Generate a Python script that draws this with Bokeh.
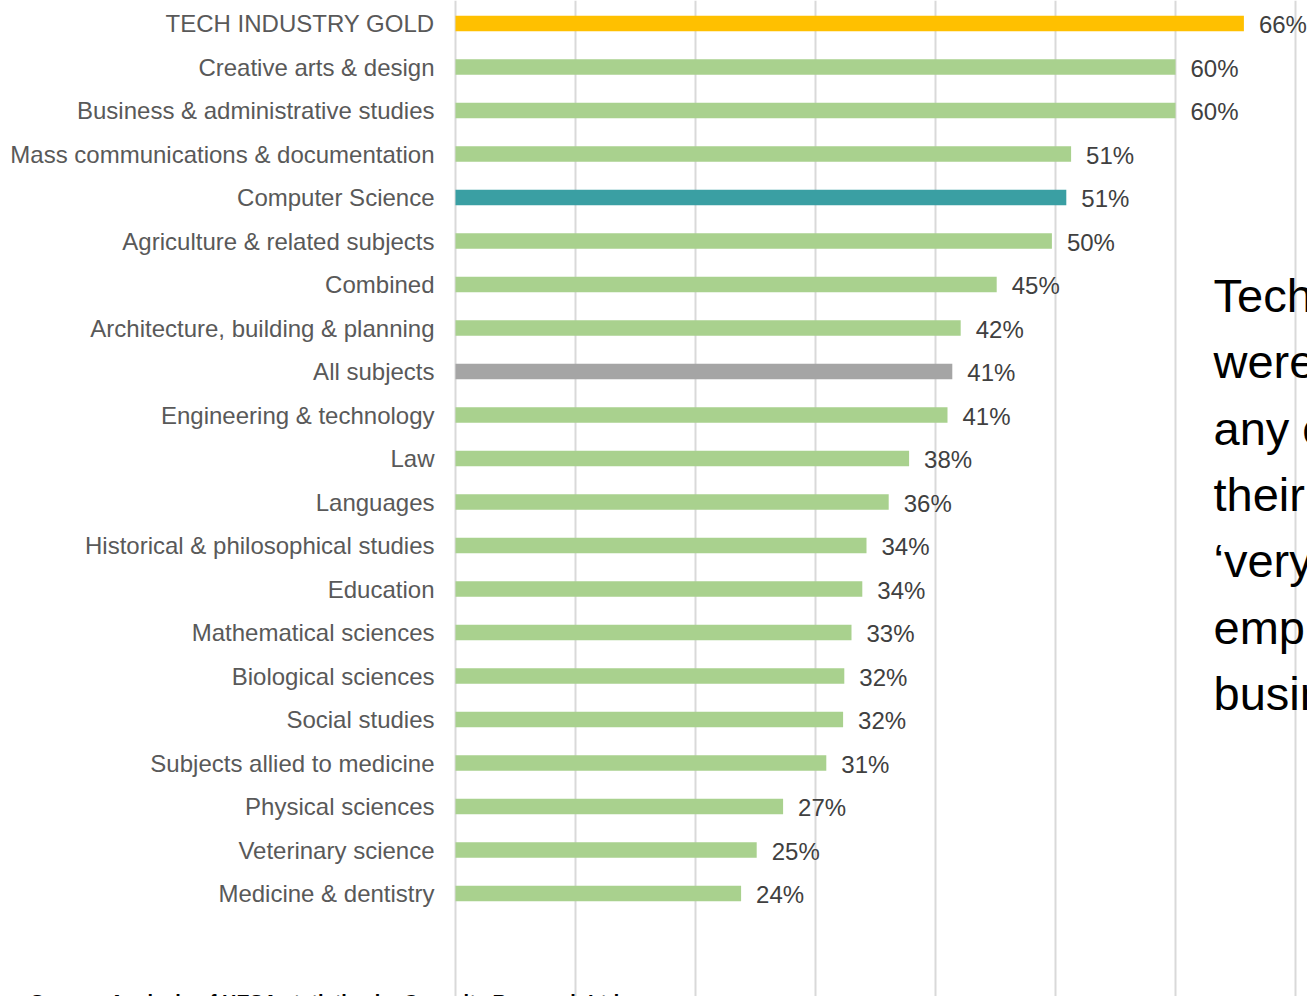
from bokeh.plotting import figure
from bokeh.models import Range1d, FixedTicker, ColumnDataSource, Label
from bokeh.core.properties import value
from bokeh.embed import file_html
from bokeh.resources import INLINE

# ---- data ----
categories = [
    "TECH INDUSTRY GOLD",
    "Creative arts & design",
    "Business & administrative studies",
    "Mass communications & documentation",
    "Computer Science",
    "Agriculture & related subjects",
    "Combined",
    "Architecture, building & planning",
    "All subjects",
    "Engineering & technology",
    "Law",
    "Languages",
    "Historical & philosophical studies",
    "Education",
    "Mathematical sciences",
    "Biological sciences",
    "Social studies",
    "Subjects allied to medicine",
    "Physical sciences",
    "Veterinary science",
    "Medicine & dentistry",
]
values = [65.7, 60.0, 60.0, 51.3, 50.9, 49.7, 45.1, 42.1, 41.4, 41.0, 37.8,
          36.1, 34.25, 33.9, 33.0, 32.4, 32.3, 30.9, 27.3, 25.1, 23.8]
pct_labels = ["66%", "60%", "60%", "51%", "51%", "50%", "45%", "42%", "41%", "41%",
              "38%", "36%", "34%", "34%", "33%", "32%", "32%", "31%", "27%", "25%", "24%"]
x_ticks = [0, 10, 20, 30, 40, 50, 60, 70]

side_text = [
    "Tech Industry Gold graduates",
    "were more likely than",
    "any other subject group to rate",
    "their employability as",
    "\u2018very good\u2019 according to",
    "employers in the tech",
    "business community",
]
source_text = "Source: Analysis of HESA statistics by Capacity Research Ltd"

# ---- styles ----
default_color = "#A9D18E"
highlight = {"TECH INDUSTRY GOLD": "#FFC000", "Computer Science": "#3A9FA3", "All subjects": "#A5A5A5"}
FONT = "Liberation Sans"

# layout helpers (pixel geometry of the reference)
row0_px, row_step_px = 23.0, 43.5
zero_px, px_per_pct = 455.0, 12.0


def row_of(px):
    return (px - row0_px) / row_step_px


def pct_of(px):
    return (px - zero_px) / px_per_pct


ys = list(range(len(categories)))
colors = [highlight.get(c, default_color) for c in categories]
src = ColumnDataSource(dict(y=ys, value=values, label=pct_labels, color=colors, cat=categories))

W, H = 1307, 996
p = figure(width=W, height=H,
           x_range=Range1d(pct_of(0), pct_of(W)),
           y_range=Range1d(row_of(H), row_of(0)),
           output_backend="svg", toolbar_location=None,
           min_border_left=0, min_border_right=0, min_border_top=0, min_border_bottom=0)
p.background_fill_color = "white"
p.border_fill_color = "white"
p.outline_line_color = None

p.hbar(y="y", left=0, right="value", height=0.36, fill_color="color", line_color=None, source=src)

# category labels
p.text(x=pct_of(434), y="y", text="cat", source=src,
       text_baseline="middle", text_align="right", text_font_size="24px",
       text_color="#595959", text_font=value(FONT))

# value labels
p.text(x="value", y="y", text="label", source=src, x_offset=15, y_offset=1,
       text_baseline="middle", text_align="left", text_font_size="24px",
       text_color="#404040", text_font=value(FONT))

# side commentary (clipped at right edge as in the reference)
side_y = [row_of(295 + 66.3 * i) for i in range(len(side_text))]
p.text(x=[pct_of(1213)] * len(side_text), y=side_y, text=side_text,
       text_baseline="middle", text_align="left", text_font_size="47px",
       text_color="#000000", text_font=value(FONT))

# axes / grid
p.xaxis.visible = False
p.yaxis.visible = False
p.xgrid.ticker = FixedTicker(ticks=x_ticks)
p.xgrid.grid_line_color = "#D9D9D9"
p.xgrid.grid_line_width = 2
p.ygrid.visible = False

p.add_layout(Label(x=pct_of(30), y=row_of(990), text=source_text,
                   text_baseline="top", text_align="left", text_font_size="20px",
                   text_font_style="bold", text_color="#000000", text_font=FONT))

open("out.html", "w").write(file_html(p, INLINE))
